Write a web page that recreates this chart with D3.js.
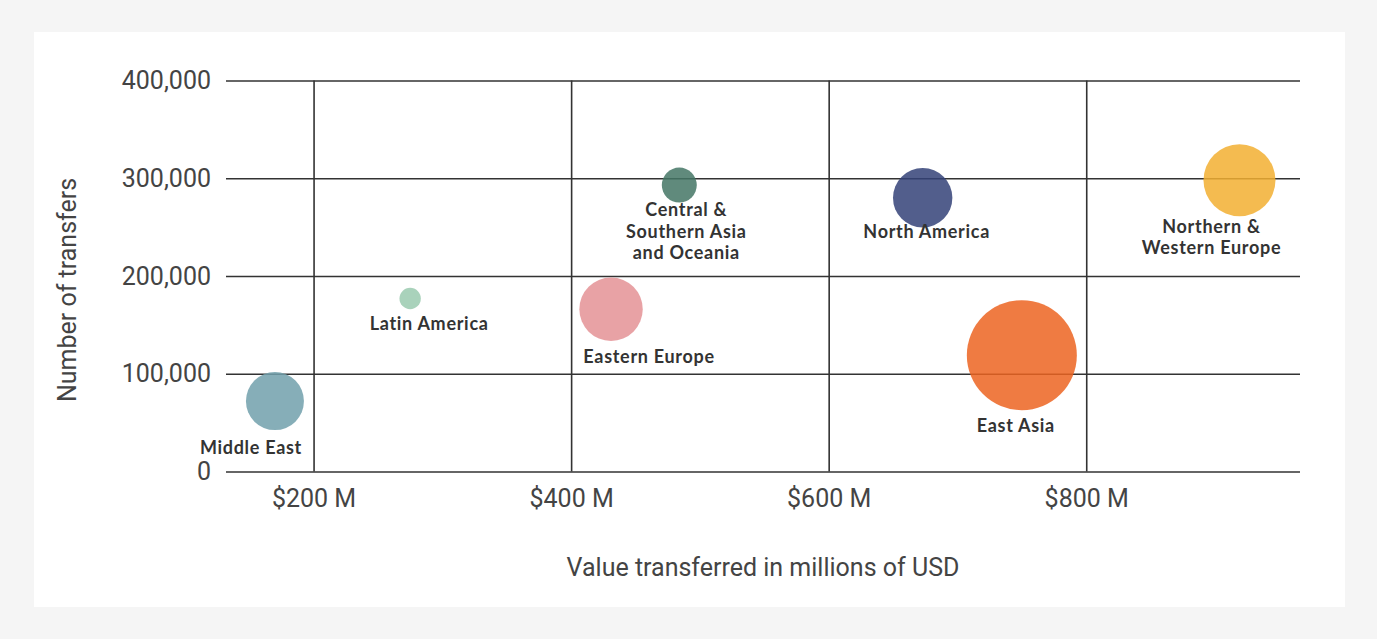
<!DOCTYPE html>
<html>
<head>
<meta charset="utf-8">
<script src="https://cdn.jsdelivr.net/npm/d3@7"></script>
<style>
    body { margin: 0; background: #f5f5f5; }
    .grid line { stroke: #333; stroke-width: 1.6; }
    .grid text { font-family: Roboto, sans-serif; font-size: 25px; fill: #444; }
    .bubble-label { font-family: Lato, sans-serif; font-weight: 700; font-size: 18px; letter-spacing: 0.7px; fill: #333; }
</style>
</head>
<body>
<div id="chart-area"></div>
<script>
// Data
var regions = ["Middle East", "Latin America", "Central & Southern Asia and Oceania",
    "Eastern Europe", "North America", "Northern & Western Europe", "East Asia"];
var valueMillions = [170, 275, 484, 431, 673, 919, 750];
var transfers = [72000, 177000, 293000, 166000, 280000, 298000, 119000];
// relative bubble size (area)
var bubbleSize = [841, 114, 306, 1005, 882, 1296, 3025];
var xTicks = [200, 400, 600, 800];
var yTicks = [0, 100000, 200000, 300000, 400000];

// look
var regionColors = ["#71a0ac", "#9acaaf", "#447665", "#e49295", "#344278", "#f2af31", "#ec6421"];
var labelLines = [["Middle East"], ["Latin America"], ["Central &", "Southern Asia", "and Oceania"],
    ["Eastern Europe"], ["North America"], ["Northern &", "Western Europe"], ["East Asia"]];
// label nudges relative to bubble centre (dx, extra gap under the bubble)
var labelNudge = [[-24, 23.5], [19, 20.5], [7, 13.5], [38, 22.5], [4, 10.5], [-28, 16.5], [-6, 21.5]];

function bubbleChart(){
    var margin = { left: 226, right: 77, top: 80.5, bottom: 167.5 };
    var fullW = 1377, fullH = 639;
    var width = fullW - margin.left - margin.right,
        height = fullH - margin.top - margin.bottom;

    var root = d3.select("#chart-area")
        .append("svg")
        .attr("width", fullW)
        .attr("height", fullH);

    // page + white card
    root.append("rect")
        .attr("width", fullW)
        .attr("height", fullH)
        .attr("fill", "#f5f5f5");
    root.append("rect")
        .attr("x", 34)
        .attr("y", 32)
        .attr("width", 1311)
        .attr("height", 575)
        .attr("fill", "#fff");

    var svg = root.append("g")
        .attr("transform", "translate(" + margin.left + ", " + margin.top + ")");

    // Scales
    var x = d3.scaleLinear()
        .domain([132, 966])
        .range([0, width]);

    var y = d3.scaleLinear()
        .domain([0, 400000])
        .range([height, 0]);

    var r = d3.scaleSqrt()
        .domain([0, d3.max(bubbleSize)])
        .range([0, 55]);

    // Y grid + labels
    var yAxis = svg.append("g")
        .attr("class", "grid")
        .call(d3.axisLeft(y)
            .tickValues(yTicks)
            .tickSize(-width)
            .tickPadding(15)
            .tickFormat(d3.format(",")));
    yAxis.select(".domain").remove();

    // X grid + labels
    var xAxis = svg.append("g")
        .attr("class", "grid")
        .attr("transform", "translate(0," + height + ")")
        .call(d3.axisBottom(x)
            .tickValues(xTicks)
            .tickSize(-height)
            .tickPadding(18)
            .tickFormat(function(d){ return "$" + d + " M"; }));
    xAxis.select(".domain").remove();

    // Axis titles
    svg.append("text")
        .attr("x", width / 2)
        .attr("y", height + 104)
        .attr("text-anchor", "middle")
        .attr("font-family", "Roboto, sans-serif")
        .attr("font-size", "25px")
        .attr("fill", "#444")
        .text("Value transferred in millions of USD");

    svg.append("text")
        .attr("transform", "rotate(-90)")
        .attr("x", -(height / 2) - 14)
        .attr("y", -150)
        .attr("text-anchor", "middle")
        .attr("font-family", "Roboto, sans-serif")
        .attr("font-size", "25px")
        .attr("fill", "#444")
        .text("Number of transfers");

    // Bubbles
    svg.selectAll("circle.bubble")
        .data(regions)
        .enter().append("circle")
        .attr("class", "bubble")
        .attr("cx", function(d, i){ return x(valueMillions[i]); })
        .attr("cy", function(d, i){ return y(transfers[i]); })
        .attr("r", function(d, i){ return r(bubbleSize[i]); })
        .attr("fill", function(d, i){ return regionColors[i]; })
        .attr("fill-opacity", 0.85);

    // Labels under each bubble
    var labels = svg.selectAll("text.bubble-label")
        .data(regions)
        .enter().append("text")
        .attr("class", "bubble-label")
        .attr("text-anchor", "middle")
        .attr("x", function(d, i){ return x(valueMillions[i]) + labelNudge[i][0]; })
        .attr("y", function(d, i){ return y(transfers[i]) + r(bubbleSize[i]) + labelNudge[i][1]; });

    labels.each(function(d, i){
        var t = d3.select(this);
        labelLines[i].forEach(function(line, j){
            t.append("tspan")
                .attr("x", t.attr("x"))
                .attr("dy", j == 0 ? 0 : 21.5)
                .text(line);
        });
    });
}

bubbleChart();
</script>
</body>
</html>
